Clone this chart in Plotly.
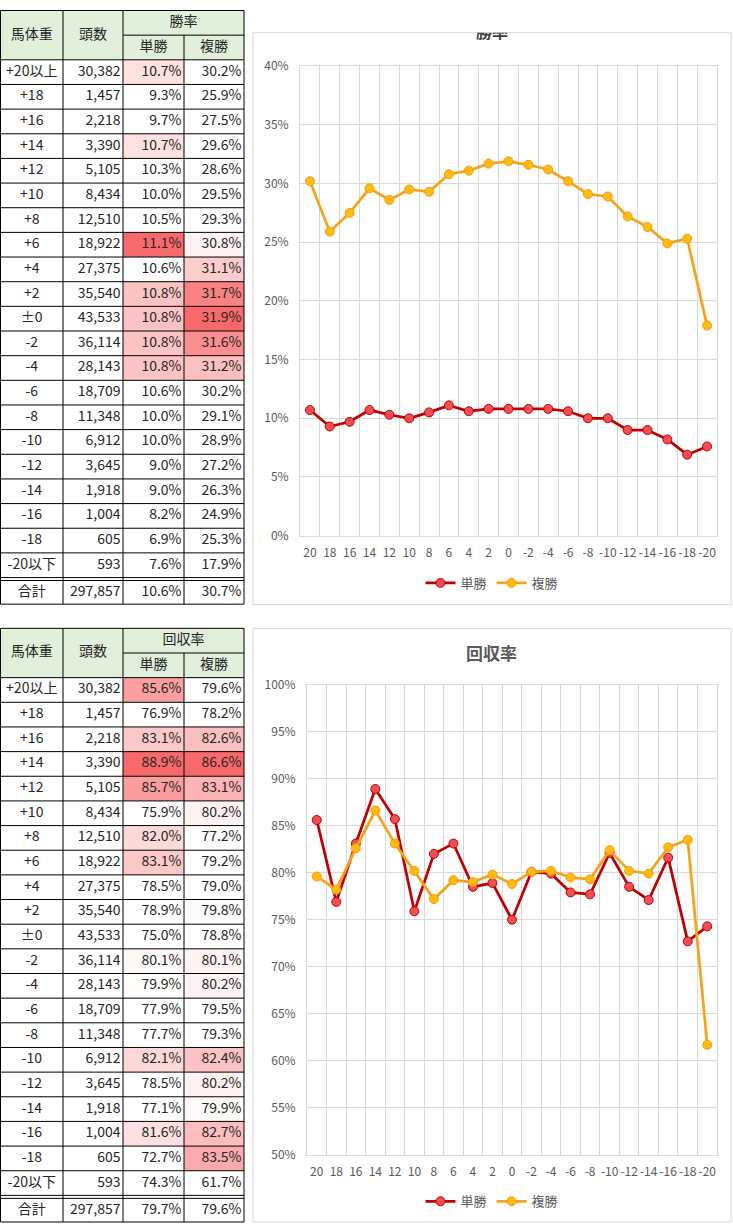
import plotly.graph_objects as go

weights = ["+20以上", "+18", "+16", "+14", "+12", "+10", "+8", "+6", "+4", "+2", "±0",
           "-2", "-4", "-6", "-8", "-10", "-12", "-14", "-16", "-18", "-20以下"]
x_labels = ["20", "18", "16", "14", "12", "10", "8", "6", "4", "2", "0",
            "-2", "-4", "-6", "-8", "-10", "-12", "-14", "-16", "-18", "-20"]
heads = [30382, 1457, 2218, 3390, 5105, 8434, 12510, 18922, 27375, 35540, 43533,
         36114, 28143, 18709, 11348, 6912, 3645, 1918, 1004, 605, 593]
heads_total = 297857

win_rate = [10.7, 9.3, 9.7, 10.7, 10.3, 10.0, 10.5, 11.1, 10.6, 10.8, 10.8,
            10.8, 10.8, 10.6, 10.0, 10.0, 9.0, 9.0, 8.2, 6.9, 7.6]
place_rate = [30.2, 25.9, 27.5, 29.6, 28.6, 29.5, 29.3, 30.8, 31.1, 31.7, 31.9,
              31.6, 31.2, 30.2, 29.1, 28.9, 27.2, 26.3, 24.9, 25.3, 17.9]
win_rate_total, place_rate_total = 10.6, 30.7

win_ret = [85.6, 76.9, 83.1, 88.9, 85.7, 75.9, 82.0, 83.1, 78.5, 78.9, 75.0,
           80.1, 79.9, 77.9, 77.7, 82.1, 78.5, 77.1, 81.6, 72.7, 74.3]
place_ret = [79.6, 78.2, 82.6, 86.6, 83.1, 80.2, 77.2, 79.2, 79.0, 79.8, 78.8,
             80.1, 80.2, 79.5, 79.3, 82.4, 80.2, 79.9, 82.7, 83.5, 61.7]
win_ret_total, place_ret_total = 79.7, 79.6

W, H = 733, 1230
JP = "Noto Sans CJK JP"
GRID = "#D9D9D9"
TICK = "#595959"


def dom_x(a, b):
    return [a / W, b / W]


def dom_y(top, bottom):
    return [1 - bottom / H, 1 - top / H]


def heat(v, base, top):
    # white -> excel red, only above the total
    t = (v - base) / (top - base)
    if t <= 0:
        return None
    t = min(t, 1)
    r = round(255 + (248 - 255) * t)
    g = round(255 + (105 - 255) * t)
    b = round(255 + (107 - 255) * t)
    return f"rgb({r},{g},{b})"


fig = go.Figure()
shapes = []

# ---- tables (drawn on a pixel-scaled hidden axis) ----
cols = [0.5, 63, 123, 184, 244]


def hline(y, x0=cols[0], x1=cols[-1]):
    shapes.append(dict(type="line", xref="x3", yref="y3", x0=x0, x1=x1, y0=y, y1=y,
                       line=dict(color="black", width=1), layer="below"))


def vline(x, y0, y1):
    shapes.append(dict(type="line", xref="x3", yref="y3", x0=x, x1=x, y0=y0, y1=y1,
                       line=dict(color="black", width=1), layer="below"))


def draw_table(top, group, col_a, col_b, tot_a, tot_b):
    rh = 25
    hdr_mid, hdr_bot = top + 25, top + 50
    data_end = hdr_bot + rh * len(weights)
    tot_top, tot_bot = data_end + 3, data_end + 27

    shapes.append(dict(type="rect", xref="x3", yref="y3", x0=cols[0], x1=cols[-1],
                       y0=top, y1=hdr_bot, fillcolor="#E2EFDA", line=dict(width=0),
                       layer="below"))
    max_a, max_b = max(col_a), max(col_b)
    for i in range(len(weights)):
        y0 = hdr_bot + rh * i
        for j, (v, base, mx) in enumerate([(col_a[i], tot_a, max_a), (col_b[i], tot_b, max_b)]):
            c = heat(v, base, mx)
            if c:
                shapes.append(dict(type="rect", xref="x3", yref="y3",
                                   x0=cols[2 + j], x1=cols[3 + j], y0=y0, y1=y0 + rh,
                                   fillcolor=c, line=dict(width=0), layer="below"))

    # borders
    hline(top)
    hline(hdr_mid, cols[2], cols[4])
    hline(hdr_bot)
    for i in range(1, len(weights)):
        hline(hdr_bot + rh * i)
    hline(data_end)
    hline(tot_top)
    hline(tot_bot)
    for k, x in enumerate(cols):
        vline(x, hdr_mid if k == 3 else top, tot_bot)

    font = dict(family=JP, size=14, color="#262626")
    centers = [hdr_bot + rh * i + rh / 2 for i in range(len(weights))] + [(tot_top + tot_bot) / 2]

    # header text
    fig.add_trace(go.Scatter(
        x=[(cols[0] + cols[1]) / 2, (cols[1] + cols[2]) / 2, (cols[2] + cols[4]) / 2,
           (cols[2] + cols[3]) / 2, (cols[3] + cols[4]) / 2],
        y=[(top + hdr_bot) / 2, (top + hdr_bot) / 2, (top + hdr_mid) / 2,
           (hdr_mid + hdr_bot) / 2, (hdr_mid + hdr_bot) / 2],
        text=["馬体重", "頭数", group, "単勝", "複勝"], mode="text",
        textfont=font, textposition="middle center", xaxis="x3", yaxis="y3",
        showlegend=False, hoverinfo="skip"))
    # label column
    fig.add_trace(go.Scatter(
        x=[(cols[0] + cols[1]) / 2] * len(centers), y=centers,
        text=weights + ["合計"], mode="text", textfont=font,
        textposition="middle center", xaxis="x3", yaxis="y3",
        showlegend=False, hoverinfo="skip"))
    # numeric columns
    numeric = [
        [f"{v:,}" for v in heads + [heads_total]],
        [f"{v:.1f}%" for v in col_a + [tot_a]],
        [f"{v:.1f}%" for v in col_b + [tot_b]],
    ]
    for j, texts in enumerate(numeric):
        fig.add_trace(go.Scatter(
            x=[cols[2 + j] - 2.5] * len(centers), y=centers, text=texts, mode="text",
            textfont=font, textposition="middle left", xaxis="x3", yaxis="y3",
            showlegend=False, hoverinfo="skip"))


draw_table(0.5, "勝率", win_rate, place_rate, win_rate_total, place_rate_total)
draw_table(627, "回収率", win_ret, place_ret, win_ret_total, place_ret_total)

# ---- charts ----
win_line = dict(color="#C00000", width=2.75)
win_marker = dict(size=9, color="#F24E55", line=dict(color="#C00000", width=1))
place_line = dict(color="#F7A21B", width=2.75)
place_marker = dict(size=9, color="#FFBB12", line=dict(color="#F39C12", width=1))

fig.add_trace(go.Scatter(x=x_labels, y=win_rate, name="単勝", mode="lines+markers",
                         line=win_line, marker=win_marker, xaxis="x", yaxis="y",
                         legend="legend"))
fig.add_trace(go.Scatter(x=x_labels, y=place_rate, name="複勝", mode="lines+markers",
                         line=place_line, marker=place_marker, xaxis="x", yaxis="y",
                         legend="legend"))
fig.add_trace(go.Scatter(x=x_labels, y=win_ret, name="単勝", mode="lines+markers",
                         line=win_line, marker=win_marker, xaxis="x2", yaxis="y2",
                         legend="legend2"))
fig.add_trace(go.Scatter(x=x_labels, y=place_ret, name="複勝", mode="lines+markers",
                         line=place_line, marker=place_marker, xaxis="x2", yaxis="y2",
                         legend="legend2"))

# top chart title is cut off by the frame in the reference: clip it on a hidden axis
fig.add_trace(go.Scatter(x=[0.5], y=[1.5], text=["勝率"], mode="text",
                         textfont=dict(family=JP, size=16, color="#404040", weight="bold"),
                         textposition="middle center", cliponaxis=True,
                         xaxis="x4", yaxis="y4", showlegend=False, hoverinfo="skip"))

tickfont = dict(family=JP, size=12, color=TICK)
xcommon = dict(type="category", tickson="boundaries", tickmode="linear", tick0=0, dtick=1,
               range=[-0.5, 20.5], showgrid=True, gridcolor=GRID, showline=True,
               linecolor=GRID, mirror=True, tickangle=0, tickfont=tickfont,
               ticks="", ticklabelstandoff=6, fixedrange=True)
ycommon = dict(dtick=5, ticksuffix="%", showgrid=True, gridcolor=GRID, zeroline=False,
               showline=True, linecolor=GRID, mirror=True, tickfont=tickfont,
               ticks="", ticklabelstandoff=8, fixedrange=True)

fig.update_layout(
    width=W, height=H, margin=dict(l=0, r=0, t=0, b=0),
    paper_bgcolor="white", plot_bgcolor="rgba(0,0,0,0)",
    xaxis=dict(domain=dom_x(300, 717), anchor="y", **xcommon),
    yaxis=dict(domain=dom_y(57, 533), anchor="x", range=[0, 40], **ycommon),
    xaxis2=dict(domain=dom_x(307, 717), anchor="y2", **xcommon),
    yaxis2=dict(domain=dom_y(684, 1161), anchor="x2", range=[50, 100], **ycommon),
    xaxis3=dict(domain=dom_x(0, 245), anchor="y3", range=[0, 245], visible=False,
                fixedrange=True),
    yaxis3=dict(domain=dom_y(0, 1230), anchor="x3", range=[1230, 0], visible=False,
                fixedrange=True),
    xaxis4=dict(domain=dom_x(253, 731), anchor="y4", range=[0, 1], visible=False,
                fixedrange=True),
    yaxis4=dict(domain=dom_y(23, 603), anchor="x4", range=[580, 0], visible=False,
                fixedrange=True),
    legend=dict(orientation="h", x=492 / W, xanchor="center", y=1 - 581 / H,
                yanchor="middle", font=dict(family=JP, size=13, color=TICK),
                bgcolor="rgba(0,0,0,0)"),
    legend2=dict(orientation="h", x=492 / W, xanchor="center", y=1 - 1208 / H,
                 yanchor="middle", font=dict(family=JP, size=13, color=TICK),
                 bgcolor="rgba(0,0,0,0)"),
    annotations=[dict(text="回収率", xref="paper", yref="paper", x=491 / W, y=1 - 651 / H,
                      xanchor="center", yanchor="middle", showarrow=False,
                      font=dict(family=JP, size=17, color=TICK, weight="bold"))],
)

# chart frames
shapes.append(dict(type="rect", xref="paper", yref="paper", x0=253 / W, x1=731 / W,
                   y0=1 - 603 / H, y1=1 - 23 / H, line=dict(color=GRID, width=1),
                   fillcolor="rgba(0,0,0,0)", layer="below"))
shapes.append(dict(type="rect", xref="paper", yref="paper", x0=253 / W, x1=731 / W,
                   y0=1 - 1229 / H, y1=1 - 627 / H, line=dict(color=GRID, width=1),
                   fillcolor="rgba(0,0,0,0)", layer="below"))
fig.update_layout(shapes=shapes)

# page body has a default margin; drop it so the figure sits at the window's corner
fig.write_html("out.html", config={"displayModeBar": False},
               post_script="document.body.style.margin='0';document.body.style.overflow='hidden';")
